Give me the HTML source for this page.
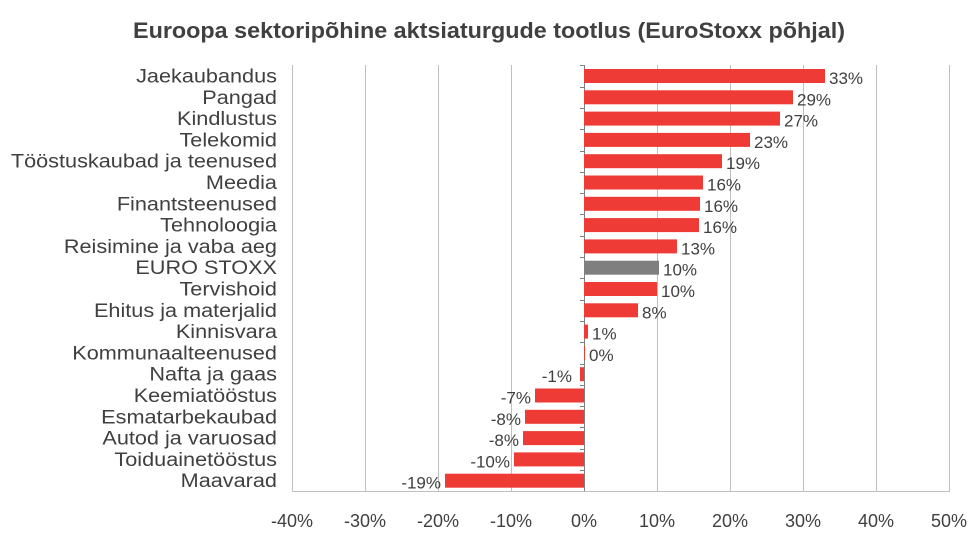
<!DOCTYPE html>
<html><head><meta charset="utf-8"><style>
body{margin:0;background:#fff;}
svg{display:block;font-family:"Liberation Sans",sans-serif;}
</style></head><body>
<svg width="976" height="558" viewBox="0 0 976 558" xmlns="http://www.w3.org/2000/svg">
<text x="489" y="38" text-anchor="middle" font-size="22" font-weight="bold" fill="#404040" textLength="712" lengthAdjust="spacingAndGlyphs">Euroopa sektoripõhine aktsiaturgude tootlus (EuroStoxx põhjal)</text>
<g stroke="#bfbfbf" stroke-width="1">
<line x1="292.5" y1="65" x2="292.5" y2="491"/>
<line x1="365.5" y1="65" x2="365.5" y2="491"/>
<line x1="438.5" y1="65" x2="438.5" y2="491"/>
<line x1="511.5" y1="65" x2="511.5" y2="491"/>
<line x1="657.5" y1="65" x2="657.5" y2="491"/>
<line x1="730.5" y1="65" x2="730.5" y2="491"/>
<line x1="803.5" y1="65" x2="803.5" y2="491"/>
<line x1="876.5" y1="65" x2="876.5" y2="491"/>
<line x1="949.5" y1="65" x2="949.5" y2="491"/>
<line x1="292" y1="491.5" x2="950" y2="491.5"/>
</g>
<g id="ticks" stroke="#7f7f7f" stroke-width="1">
<line x1="584.5" y1="65" x2="584.5" y2="491"/>
</g>
<g id="bars" fill="#ee3b35"></g>
<g id="labels" fill="#404040"></g>
<g font-size="18" fill="#404040" text-anchor="middle">
<text x="292" y="527">-40%</text><text x="365" y="527">-30%</text><text x="438" y="527">-20%</text><text x="511" y="527">-10%</text><text x="584" y="527">0%</text><text x="657" y="527">10%</text><text x="730" y="527">20%</text><text x="803" y="527">30%</text><text x="876" y="527">40%</text><text x="949" y="527">50%</text>
</g>
<script>
var d=[["Jaekaubandus",825,"33%"],["Pangad",793,"29%"],["Kindlustus",780,"27%"],["Telekomid",750,"23%"],["Tööstuskaubad ja teenused",722,"19%"],["Meedia",703,"16%"],["Finantsteenused",700,"16%"],["Tehnoloogia",699,"16%"],["Reisimine ja vaba aeg",677,"13%"],["EURO STOXX",659,"10%"],["Tervishoid",657,"10%"],["Ehitus ja materjalid",638,"8%"],["Kinnisvara",588,"1%"],["Kommunaalteenused",585,"0%"],["Nafta ja gaas",580,"-1%"],["Keemiatööstus",535,"-7%"],["Esmatarbekaubad",525,"-8%"],["Autod ja varuosad",523,"-8%"],["Toiduainetööstus",514,"-10%"],["Maavarad",445,"-19%"]];
var ns="http://www.w3.org/2000/svg",b=document.getElementById("bars"),l=document.getElementById("labels"),tk=document.getElementById("ticks");
d.forEach(function(r,i){var cy=76+i*21.3;
var x=Math.min(584,r[1]),w=Math.abs(r[1]-584);
var e=document.createElementNS(ns,"rect");e.setAttribute("x",x);e.setAttribute("y",cy-7);e.setAttribute("width",Math.max(w,0.5));e.setAttribute("height",14);
if(i==9)e.setAttribute("fill","#7f7f7f");b.appendChild(e);
var tl=document.createElementNS(ns,"line");var ty=Math.round(cy-10.65)+0.5;tl.setAttribute("x1",580);tl.setAttribute("x2",584);tl.setAttribute("y1",ty);tl.setAttribute("y2",ty);tk.appendChild(tl);
var t=document.createElementNS(ns,"text");t.setAttribute("x",277);t.setAttribute("y",cy+6.5);t.setAttribute("text-anchor","end");t.setAttribute("font-size","19");t.textContent=r[0];l.appendChild(t);
var len=t.getComputedTextLength();t.setAttribute("textLength",len*1.14);t.setAttribute("lengthAdjust","spacingAndGlyphs");
var v=document.createElementNS(ns,"text");v.setAttribute("y",cy+8);v.setAttribute("font-size","17");
if(r[1]>=584){v.setAttribute("x",r[1]+4);}else{v.setAttribute("x",(i==14?r[1]-8:r[1]-4));v.setAttribute("text-anchor","end");}
v.textContent=r[2];l.appendChild(v);});
</script>
</svg>
</body></html>
